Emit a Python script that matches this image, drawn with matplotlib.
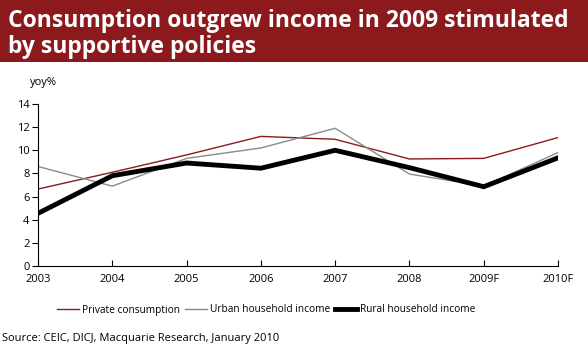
import matplotlib
matplotlib.use("Agg")
import matplotlib.pyplot as plt
from matplotlib.patches import Rectangle

years = ["2003", "2004", "2005", "2006", "2007", "2008", "2009F", "2010F"]
private_consumption = [6.65, 8.1, 9.6, 11.2, 10.95, 9.25, 9.3, 11.1]
urban_income = [8.6, 6.9, 9.3, 10.2, 11.9, 7.95, 6.9, 9.8]
rural_income = [4.55, 7.8, 8.9, 8.45, 10.0, 8.5, 6.85, 9.35]
yticks = [0, 2, 4, 6, 8, 10, 12, 14]

plt.rcParams['font.family'] = ['Open Sans', 'DejaVu Sans']

fig = plt.figure(figsize=(5.88, 3.5), dpi=100)
W, H = 588, 350

# Title band
fig.patches.append(Rectangle((0, 1 - 62 / H), 1, 62 / H, transform=fig.transFigure,
                             facecolor="#8C1A1C", edgecolor="none", zorder=0))
fig.text(8 / W, 1 - 27 / H, "Consumption outgrew income in 2009 stimulated",
         color="white", fontsize=16.5, fontweight="bold", va="baseline", ha="left")
fig.text(8 / W, 1 - 53 / H, "by supportive policies",
         color="white", fontsize=16.5, fontweight="bold", va="baseline", ha="left")

ax = fig.add_axes([38 / W, 1 - 266 / H, (558 - 38) / W, (266 - 104) / H])
x = list(range(len(years)))
ax.plot(x, private_consumption, color="#8C1A1C", lw=1.0, label="Private consumption")
ax.plot(x, urban_income, color="#8a8a8a", lw=1.0, label="Urban household income")
ax.plot(x, rural_income, color="black", lw=3.5, label="Rural household income",
        solid_joinstyle="miter")

ax.set_xlim(0, len(years) - 1)
ax.set_ylim(0, 14)
ax.set_xticks(x)
ax.set_xticklabels(years)
ax.set_yticks(yticks)
ax.spines["top"].set_visible(False)
ax.spines["right"].set_visible(False)
ax.tick_params(axis="x", direction="in", length=4, labelsize=8, pad=6)
ax.tick_params(axis="y", direction="out", length=4, labelsize=8, pad=2)
ax.set_facecolor("none")

fig.text(30 / W, 1 - 82 / H, "yoy%", fontsize=8, ha="left", va="center")

ax.legend(loc="center", bbox_to_anchor=(266 / W, 1 - 310 / H), bbox_transform=fig.transFigure,
          ncol=3, frameon=False, fontsize=7.3, handlelength=2.2, handletextpad=0.25,
          columnspacing=0.5)

fig.text(2 / W, 1 - 339 / H, "Source: CEIC, DICJ, Macquarie Research, January 2010",
         fontsize=8, ha="left", va="center")

fig.savefig("out.png", dpi=100)
